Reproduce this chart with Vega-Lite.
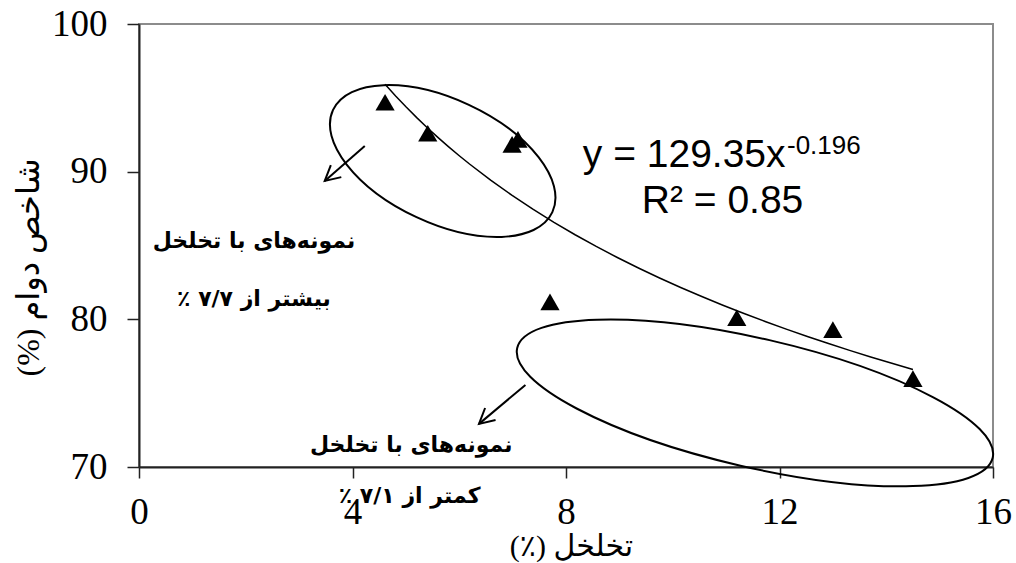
{
  "$schema": "https://vega.github.io/schema/vega-lite/v6.json",
  "width": 854,
  "height": 443,
  "autosize": {"type": "none"},
  "padding": {"left": 139, "top": 24, "right": 23, "bottom": 96},
  "background": "white",
  "config": {
    "view": {"stroke": "#8c8c8c", "strokeWidth": 2},
    "axis": {"grid": false, "zindex": 1}
  },
  "datasets": {
    "pts": [
      {"x": 4.61, "y": 94.70},
      {"x": 5.41, "y": 92.60},
      {"x": 6.99, "y": 91.85},
      {"x": 7.10, "y": 92.19},
      {"x": 7.70, "y": 81.18},
      {"x": 11.20, "y": 80.11},
      {"x": 13.00, "y": 79.30},
      {"x": 14.50, "y": 75.98}
    ]
  },
  "encoding": {
    "x": {
      "field": "x", "type": "quantitative",
      "scale": {"domain": [0, 16], "nice": false, "zero": false},
      "axis": {
        "title": "(٪) تخلخل",
        "values": [0, 4, 8, 12, 16],
        "domainColor": "#222222", "domainWidth": 2,
        "tickColor": "#222222", "tickWidth": 1.5, "tickSize": 11,
        "labelFont": "Liberation Serif", "labelFontSize": 37, "labelColor": "black",
        "labelPadding": 16, "labelFlush": false, "labelOverlap": false,
        "titleFont": "Liberation Serif, DejaVu Sans", "titleFontSize": 30, "titleFontWeight": "normal",
        "titleColor": "black", "titleX": 432, "titleY": 79, "titleBaseline": "middle"
      }
    },
    "y": {
      "field": "y", "type": "quantitative",
      "scale": {"domain": [70, 100], "nice": false, "zero": false},
      "axis": {
        "title": "(%) شاخص دوام",
        "values": [70, 80, 90, 100],
        "domainColor": "#222222", "domainWidth": 2,
        "tickColor": "#222222", "tickWidth": 1.5, "tickSize": 12,
        "labelFont": "Liberation Serif", "labelFontSize": 37, "labelColor": "black",
        "labelPadding": 20, "labelFlush": false, "labelOverlap": false,
        "titleFont": "Liberation Serif, DejaVu Sans", "titleFontSize": 32, "titleFontWeight": "normal",
        "titleColor": "black", "titleAngle": -90, "titleX": -111, "titleY": 243,
        "titleAlign": "center", "titleBaseline": "middle"
      }
    }
  },
  "layer": [
    {
      "data": {"name": "pts"},
      "transform": [{"regression": "y", "on": "x", "method": "pow"}],
      "mark": {"type": "line", "color": "black", "strokeWidth": 1.5}
    },
    {
      "data": {"name": "pts"},
      "mark": {"type": "point", "shape": "triangle-up", "filled": true, "color": "black", "size": 370, "opacity": 1}
    },
    {
      "data": {"values": [{"x": 5.69, "y": 90.72}]},
      "mark": {
        "type": "point", "filled": false, "color": "black", "opacity": 1, "strokeWidth": 2,
        "shape": "M1,0C1,0.283 0.552,0.512 0,0.512C-0.552,0.512 -1,0.283 -1,0C-1,-0.283 -0.552,-0.512 0,-0.512C0.552,-0.512 1,-0.283 1,0Z",
        "size": 58564, "angle": 25
      }
    },
    {
      "data": {"values": [{"x": 11.54, "y": 74.34}]},
      "mark": {
        "type": "point", "filled": false, "color": "black", "opacity": 1, "strokeWidth": 2,
        "shape": "M1,0C1,0.146 0.552,0.264 0,0.264C-0.552,0.264 -1,0.146 -1,0C-1,-0.146 -0.552,-0.264 0,-0.264C0.552,-0.264 1,-0.146 1,0Z",
        "size": 238144, "angle": 13
      }
    },
    {
      "data": {"values": [
        {"x": 4.23, "y": 91.74, "x2": 3.48, "y2": 89.37},
        {"x": 7.24, "y": 75.56, "x2": 6.37, "y2": 72.92}
      ]},
      "mark": {"type": "rule", "color": "black", "strokeWidth": 2},
      "encoding": {
        "x2": {"field": "x2"},
        "y2": {"field": "y2"}
      }
    },
    {
      "data": {"values": [
        {"x": 3.48, "y": 89.37},
        {"x": 6.37, "y": 72.92}
      ]},
      "mark": {
        "type": "point", "filled": false, "color": "black", "opacity": 1, "strokeWidth": 2,
        "shape": "M-0.883,-0.469L0,0L-0.883,0.469",
        "size": 1156, "angle": 139
      }
    },
    {
      "data": {"values": [
        {"x": 2.154, "y": 85.31, "label": "نمونه‌های با تخلخل"},
        {"x": 2.154, "y": 81.38, "label": "بیشتر از ۷/۷ ٪‏"},
        {"x": 5.10, "y": 71.46, "label": "نمونه‌های با تخلخل"},
        {"x": 5.07, "y": 68.04, "label": "کمتر از ۷/۱ ٪‏"}
      ]},
      "mark": {"type": "text", "font": "DejaVu Sans", "fontWeight": "bold", "fontSize": 22, "color": "black", "align": "center", "baseline": "middle"},
      "encoding": {"text": {"field": "label"}}
    },
    {
      "data": {"values": [
        {"x": 8.315, "y": 90.32, "label": "y = 129.35x"},
        {"x": 9.42, "y": 87.20, "label": "R² = 0.85"}
      ]},
      "mark": {"type": "text", "font": "Liberation Sans", "fontSize": 39, "color": "black", "align": "left", "baseline": "alphabetic"},
      "encoding": {"text": {"field": "label"}}
    },
    {
      "data": {"values": [
        {"x": 12.14, "y": 91.20, "label": "-0.196"}
      ]},
      "mark": {"type": "text", "font": "Liberation Sans", "fontSize": 26, "color": "black", "align": "left", "baseline": "alphabetic"},
      "encoding": {"text": {"field": "label"}}
    }
  ]
}
